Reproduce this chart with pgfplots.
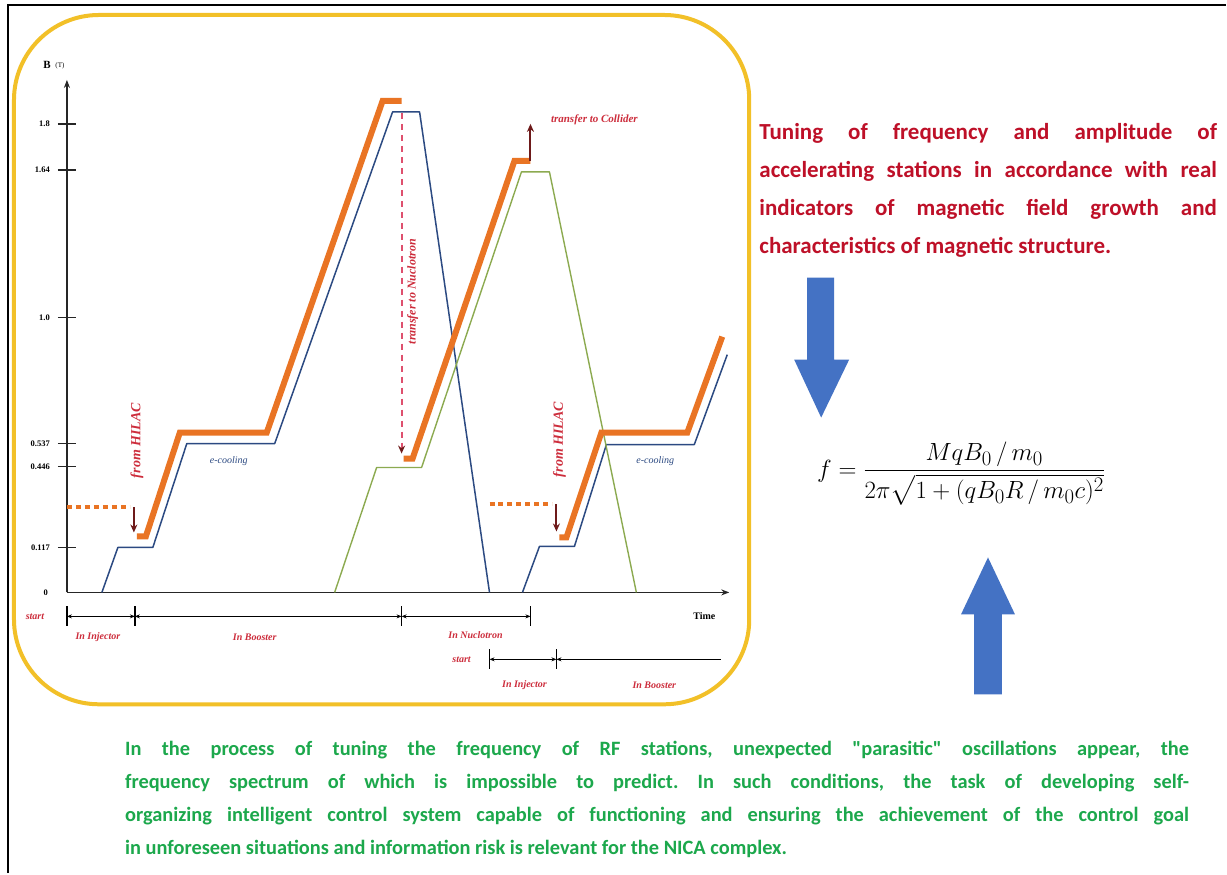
\documentclass[border=0pt]{standalone}
\usepackage{fontspec}
\setmainfont{Carlito}[Ligatures=TeXOff]
\newfontfamily\serif{Liberation Serif}
\usepackage{amsmath}
\usepackage{pgfplots}
\pgfplotsset{compat=1.18}
\usetikzlibrary{arrows.meta}
\frenchspacing

\definecolor{ygold}{RGB}{242,192,40}
\definecolor{corange}{RGB}{233,116,36}
\definecolor{cblue}{RGB}{44,74,130}
\definecolor{cgreen}{RGB}{140,170,80}
\definecolor{redtxt}{RGB}{190,16,40}
\definecolor{grntxt}{RGB}{28,168,76}
\definecolor{arrblue}{RGB}{68,114,196}
\definecolor{lblred}{RGB}{205,45,60}
\definecolor{brown}{RGB}{110,26,26}
\definecolor{dashpink}{RGB}{222,80,110}

\begin{document}
\begin{tikzpicture}
\begin{axis}[width=1227pt, height=874pt, scale only axis,
  xmin=0, xmax=1227, ymin=0, ymax=874, y dir=reverse,
  hide axis, clip=false, unbounded coords=jump]

\fill[white] (axis cs:0,0) rectangle (axis cs:1227,874);

% outer frame and yellow panel
\addplot[black, line width=2.5pt] coordinates {(8,874)(8,5)(1227,5)};
\draw[ygold, line width=4pt, rounded corners=85pt] (axis cs:14,15) rectangle (axis cs:750,705);

% chart axes
\addplot[black!85, line width=1.6pt, -{Stealth[length=8pt,width=6pt]}] coordinates {(67,593)(67,80)};
\addplot[black!85, line width=1.6pt, -{Stealth[length=8pt,width=6pt]}] coordinates {(67,593)(730,593)};
\addplot[black!85, line width=1.6pt] coordinates {
  (58,124)(76,124) (nan,nan) (58,170)(76,170) (nan,nan) (58,318)(76,318) (nan,nan)
  (58,444)(76,444) (nan,nan) (58,467)(76,467) (nan,nan) (58,548)(76,548)};

% tick labels
\begin{scope}[every node/.style={anchor=east, inner sep=0, font=\serif\bfseries\fontsize{8.5}{9}\selectfont}]
\node at (axis cs:50,124) {1.8};
\node at (axis cs:50,170) {1.64};
\node at (axis cs:50,318) {1.0};
\node at (axis cs:50,444) {0.537};
\node at (axis cs:50,467) {0.446};
\node at (axis cs:50,548) {0.117};
\node at (axis cs:48,593) {0};
\end{scope}
\node[font=\serif\bfseries\fontsize{11}{12}\selectfont] at (axis cs:47,65) {B};
\node[font=\serif\fontsize{7}{8}\selectfont] at (axis cs:60,66) {(T)};
\node[font=\serif\bfseries\fontsize{10}{11}\selectfont] at (axis cs:705,617) {Time};

% cycles
\addplot[cblue, line width=1.5pt, line join=round] coordinates {
  (102,593)(118,548)(153,548)(187,444)(275,444)(393,112)(420,112)(490,593)};
\addplot[cblue, line width=1.5pt, line join=round] coordinates {
  (523,593)(540,547)(575,547)(607,445)(695,445)(728,355)};
\addplot[cgreen, line width=1.4pt, line join=round] coordinates {
  (335,593)(377,468)(422,468)(522,172)(550,172)(637,593)};
\addplot[corange, line width=6pt, line join=miter] coordinates {
  (137,537)(146,537)(180,433)(267,433)(383,101)(402,101)};
\addplot[corange, line width=6pt, line join=miter] coordinates {
  (404,459)(413,459)(515,161)(531,161)};
\addplot[corange, line width=6pt, line join=miter] coordinates {
  (560,538)(567,538)(602,433)(688,433)(723,337)};
\addplot[corange, line width=4pt, dash pattern=on 5pt off 4pt] coordinates {(67,508)(130,508)};
\addplot[corange, line width=4pt, dash pattern=on 5pt off 4pt] coordinates {(490,505)(553,505)};

% transfer arrows
\addplot[brown, line width=2pt, -{Stealth[length=8pt,width=7pt]}] coordinates {(134,508)(134,533)};
\addplot[brown, line width=2pt, -{Stealth[length=8pt,width=7pt]}] coordinates {(557,505)(557,532)};
\addplot[brown, line width=2pt, -{Stealth[length=8pt,width=7pt]}] coordinates {(531,161)(531,124)};
\addplot[dashpink, line width=2pt, dash pattern=on 6pt off 5pt, -{Stealth[length=8pt,width=7pt,brown]}] coordinates {(402,113)(402,454)};

% chart labels
\begin{scope}[every node/.style={inner sep=0, text=lblred, font=\serif\bfseries\itshape\fontsize{10}{11}\selectfont}]
\node[rotate=90, font=\serif\bfseries\itshape\fontsize{14}{15}\selectfont] at (axis cs:137,441) {from HILAC};
\node[rotate=90, font=\serif\bfseries\itshape\fontsize{14}{15}\selectfont] at (axis cs:560,440) {from HILAC};
\node[rotate=90, font=\serif\bfseries\itshape\fontsize{12}{13}\selectfont] at (axis cs:413,292) {transfer to Nuclotron};
\node[font=\serif\bfseries\itshape\fontsize{11}{12}\selectfont] at (axis cs:595,120) {transfer to Collider};
\node at (axis cs:35,617) {start};
\node at (axis cs:98,638) {In Injector};
\node at (axis cs:255,638) {In Booster};
\node at (axis cs:476,636) {In Nuclotron};
\node at (axis cs:462,660) {start};
\node at (axis cs:525,686) {In Injector};
\node at (axis cs:655,686) {In Booster};
\end{scope}
\node[inner sep=0, text=cblue, font=\serif\itshape\fontsize{10}{11}\selectfont] at (axis cs:229,462) {e-cooling};
\node[inner sep=0, text=cblue, font=\serif\itshape\fontsize{10}{11}\selectfont] at (axis cs:656,462) {e-cooling};

% time lines
\addplot[black, line width=1.3pt, {Stealth[length=5pt,width=4pt]}-{Stealth[length=5pt,width=4pt]}] coordinates {(67,617)(135,617)};
\addplot[black, line width=1.3pt, {Stealth[length=5pt,width=4pt]}-{Stealth[length=5pt,width=4pt]}] coordinates {(135,617)(402,617)};
\addplot[black, line width=1.3pt, {Stealth[length=5pt,width=4pt]}-{Stealth[length=5pt,width=4pt]}] coordinates {(402,617)(531,617)};
\addplot[black, line width=1.3pt, {Stealth[length=5pt,width=4pt]}-{Stealth[length=5pt,width=4pt]}] coordinates {(490,660)(557,660)};
\addplot[black, line width=1.3pt, {Stealth[length=5pt,width=4pt]}-] coordinates {(557,660)(722,660)};
\addplot[black, line width=1.6pt] coordinates {
  (67,607)(67,627) (nan,nan) (135,607)(135,627) (nan,nan) (402,607)(402,627) (nan,nan) (531,607)(531,627)
  (nan,nan) (490,650)(490,670) (nan,nan) (557,650)(557,670)};

% blue block arrows
\addplot[fill=arrblue, draw=none] coordinates {
  (808,278)(835,278)(835,360)(850,360)(822,418)(795,360)(808,360)} -- cycle;
\addplot[fill=arrblue, draw=none] coordinates {
  (975,695)(1003,695)(1003,615)(1016,615)(989,558)(962,615)(975,615)} -- cycle;

% formula
\node[inner sep=0, font=\fontsize{31}{36}\selectfont] at (axis cs:962,474)
  {$f=\dfrac{MqB_0\,/\,m_0}{2\pi\sqrt{1+(qB_0R\,/\,m_0c)^2}}$};

% texts
\node[anchor=north west, inner sep=0, text width=458pt, align=justify, text=redtxt,
  font=\bfseries\fontsize{23}{38}\selectfont] at (axis cs:760,123)
  {Tuning of frequency and amplitude of\linebreak accelerating stations in accordance with real\linebreak indicators of magnetic field growth and\linebreak characteristics of magnetic structure.};
\node[anchor=north west, inner sep=0, text width=1065pt, align=justify, text=grntxt,
  font=\bfseries\fontsize{20.4}{33}\selectfont] at (axis cs:125,742)
  {In the process of tuning the frequency of RF stations, unexpected "parasitic" oscillations appear, the\linebreak frequency spectrum of which is impossible to predict. In such conditions, the task of developing self-\linebreak organizing intelligent control system capable of functioning and ensuring the achievement of the control goal\linebreak in unforeseen situations and information risk is relevant for the NICA complex.};
\end{axis}
\end{tikzpicture}
\end{document}
